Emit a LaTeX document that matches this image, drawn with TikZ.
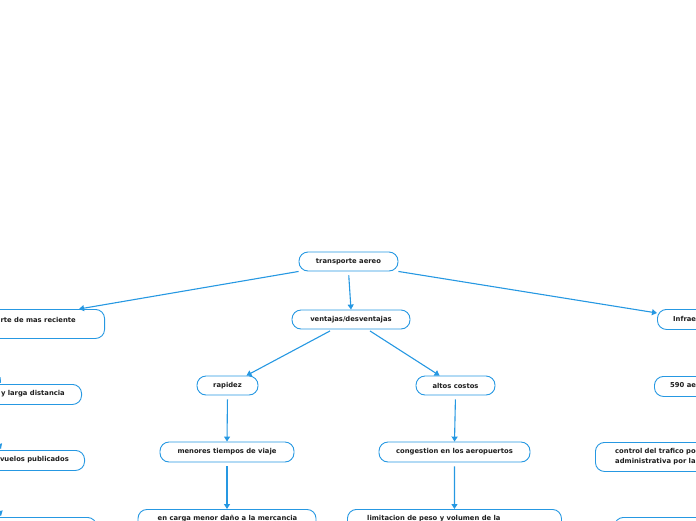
\documentclass[tikz,border=0pt]{standalone}
\usepackage{fontspec}
\setmainfont{DejaVu Sans}
\usetikzlibrary{arrows.meta,calc}
\definecolor{mapblue}{RGB}{38,152,226}
\definecolor{ink}{RGB}{30,30,30}

\begin{document}
\begin{tikzpicture}[x=1pt, y=-1pt, >={Triangle[length=5pt,width=6pt]},
  box/.style={draw=mapblue, line width=0.9pt, rounded corners=9pt, fill=white, inner sep=0pt},
  txt/.style={font=\fontsize{6.8}{10}\selectfont\bfseries, text=ink, inner sep=0pt},
  link/.style={->, mapblue, line width=1.1pt},
  vlink/.style={link, shorten <=4pt}]
  \useasboundingbox (0,0) rectangle (696,520);
  \clip (0,0) rectangle (696,520);

  % centre branch
  \node[box, txt, minimum width=99pt, minimum height=19pt] (root) at (348.5,261.5) {transporte aereo};
  \node[box, txt, minimum width=118pt, minimum height=19pt] (vent) at (351,319.5) {ventajas/desventajas};
  \node[box, txt, minimum width=61pt, minimum height=19pt] (rap) at (227.5,385.5) {rapidez};
  \node[box, txt, minimum width=79pt, minimum height=19pt] (costos) at (455.5,385.5) {altos costos};
  \node[box, txt, minimum width=134pt, minimum height=20pt] (tiempos) at (227,452) {menores tiempos de viaje};
  \node[box, txt, minimum width=151pt, minimum height=20pt] (congestion) at (454.5,452) {congestion en los aeropuertos};
  \node[box, minimum width=178pt, minimum height=40pt, anchor=north] (carga) at (227,509) {};
  \node[txt] (cargatxt) at (227.5,519) {en carga menor daño a la mercancia};
  \node[box, minimum width=214pt, minimum height=40pt, anchor=north west] (peso) at (347,509) {};
  \node[txt, anchor=west] (pesotxt) at (367,519) {limitacion de peso y volumen de la};

  % left branch
  \node[box, minimum width=170pt, minimum height=29pt, anchor=north east] (reciente) at (105,309) {};
  \node[txt, anchor=east] (recientetxt) at (76,320) {rte de mas reciente};
  \node[box, minimum width=120pt, minimum height=20pt, anchor=north east] (distancia) at (82,384) {};
  \node[txt, anchor=east] (distanciatxt) at (65,394) {y larga distancia};
  \node[box, minimum width=120pt, minimum height=20pt, anchor=north east] (vuelos) at (85,450) {};
  \node[txt, anchor=east] (vuelostxt) at (69,460) {vuelos publicados};
  \node[box, minimum width=130pt, minimum height=30pt, anchor=north east] (izq) at (97,517) {};
  \coordinate (lefthub) at (-60,300);

  % right branch
  \node[box, minimum width=120pt, minimum height=20pt, anchor=north west] (infra) at (657,309) {};
  \node[txt, anchor=west] (infratxt) at (673,319) {Infraestructura};
  \node[box, minimum width=120pt, minimum height=20pt, anchor=north west] (aero) at (654,376) {};
  \node[txt, anchor=west] (aerotxt) at (670,386) {590 aeropuertos};
  \node[box, minimum width=150pt, minimum height=29pt, anchor=north west] (control) at (595,442) {};
  \node[txt, anchor=west, align=left] (controltxt) at (615,457) {control del trafico po\\administrativa por la};
  \node[box, minimum width=130pt, minimum height=30pt, anchor=north west] (der) at (614,517) {};

  % connectors
  \draw[link] (root.south west) -- ($(reciente.north east)+(-26,0)$);
  \draw[vlink] (root.south) -- (vent.north);
  \draw[link] (root.south east) -- ($(infra.north west)+(0,4)$);
  \draw[link] ($(vent.south)+(-21,1.5)$) -- ($(rap.north east)+(-12,0)$);
  \draw[link] ($(vent.south)+(19,1.5)$) -- ($(costos.north west)+(24,0)$);
  \draw[vlink] (rap.south) -- (tiempos.north);
  \draw[vlink] (tiempos.south) -- (carga.north);
  \draw[vlink] (costos.south) -- (congestion.north);
  \draw[vlink] (congestion.south) -- (peso.north);
  \draw[link] (lefthub) -- ($(distancia.north east)+(-81,-1)$);
  \draw[link] (lefthub) -- ($(vuelos.north east)+(-84,-1)$);
  \draw[link] (lefthub) -- ($(izq.north east)+(-96,-1)$);
\end{tikzpicture}
\end{document}
